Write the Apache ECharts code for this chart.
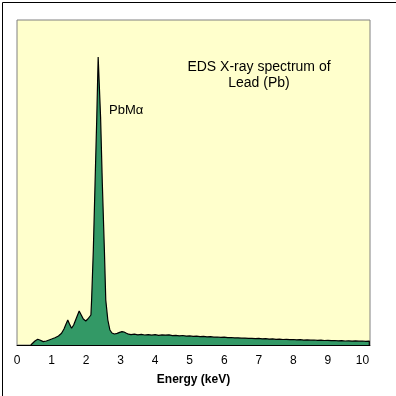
<!DOCTYPE html>
<html>
<head>
<meta charset="utf-8">
<script src="https://cdn.jsdelivr.net/npm/echarts@6/dist/echarts.min.js"></script>
<style>
html,body{margin:0;padding:0;background:#fff;}
#chart{width:396px;height:396px;}
</style>
</head>
<body>
<div id="chart"></div>
<script>
// Energy (keV) and relative counts
const energy = [
  0.40, 0.45, 0.52, 0.60, 0.66, 0.76, 0.85, 0.95, 1.02, 1.10, 1.20, 1.29, 1.36, 1.42, 1.47, 1.52, 1.58, 1.64, 1.72, 1.80,
  1.86, 1.92, 1.99, 2.05, 2.10, 2.14, 2.16, 2.21, 2.26, 2.31, 2.35, 2.42, 2.47, 2.53, 2.57, 2.63, 2.69, 2.75, 2.82, 2.90,
  2.97, 3.04, 3.10, 3.17, 3.23,
  3.3, 3.4, 3.5, 3.6, 3.7, 3.8, 3.9, 4.0, 4.1, 4.2, 4.3, 4.4, 4.5, 4.6, 4.7, 4.8, 4.9, 5.0, 5.1, 5.2,
  5.3, 5.4, 5.5, 5.6, 5.7, 5.8, 5.9, 6.0, 6.1, 6.2, 6.3, 6.4, 6.5, 6.6, 6.7, 6.8, 6.9, 7.0, 7.1, 7.2,
  7.3, 7.4, 7.5, 7.6, 7.7, 7.8, 7.9, 8.0, 8.1, 8.2, 8.3, 8.4, 8.5, 8.6, 8.7, 8.8, 8.9, 9.0, 9.1, 9.2,
  9.3, 9.4, 9.5, 9.6, 9.7, 9.8, 9.9, 10.0, 10.1, 10.2, 10.2
];
const counts = [
  0, 2, 4, 5.7, 5, 3.4, 4, 5.3, 6.2, 7.3, 9, 11.7, 16, 21, 25, 21, 16.7, 20, 27, 34,
  30, 26, 24, 26, 28, 30, 45, 95, 162, 228, 288, 228, 162, 95, 45, 25, 15, 12, 11, 11.6,
  12.6, 13.4, 13, 11.8, 10.8,
  10.3, 10.8, 10.2, 10.6, 10.0, 10.4, 9.8, 10.3, 9.7, 10.1, 9.9, 10.2, 9.4, 9.6, 9.2, 9.5, 8.9, 9.1, 8.6, 8.8,
  8.4, 8.6, 8.1, 8.3, 7.8, 8.0, 7.6, 7.8, 7.3, 7.5, 7.1, 7.2, 6.8, 6.9, 6.6, 6.7, 6.4, 6.6, 6.2, 6.3,
  5.9, 6.1, 5.6, 5.8, 5.5, 5.7, 5.3, 5.5, 5.1, 5.4, 4.9, 5.1, 4.8, 5.0, 4.6, 4.8, 4.5, 4.7, 4.3, 4.5,
  4.2, 4.3, 4.0, 4.2, 3.9, 4.1, 3.8, 4.0, 3.7, 3.9, 0
];
const titleLines = ['EDS X-ray spectrum of', 'Lead (Pb)'];
const peakLabel = 'PbMα';
const xAxisName = 'Energy (keV)';

const data = energy.map((e, i) => [e, counts[i]]);
const font = '"Liberation Sans", Arial, sans-serif';

const chart = echarts.init(document.getElementById('chart'), null, {renderer: 'canvas'});
chart.setOption({
  animation: false,
  backgroundColor: '#ffffff',
  grid: {
    left: 17, top: 20, right: 26, bottom: 51,
    show: true, backgroundColor: '#FFFFCC', borderColor: '#808080', borderWidth: 1
  },
  xAxis: {
    type: 'value', min: 0, max: 10.22, interval: 1,
    name: xAxisName, nameLocation: 'middle', nameGap: 29,
    nameTextStyle: {fontFamily: font, fontSize: 12, fontWeight: 'bold', color: '#000'},
    axisLine: {show: true, lineStyle: {color: '#000', width: 1}},
    axisTick: {show: false},
    splitLine: {show: false},
    axisLabel: {fontFamily: font, fontSize: 12, color: '#000', margin: 10, showMaxLabel: false}
  },
  yAxis: {
    type: 'value', min: 0, max: 325, show: false, splitLine: {show: false}
  },
  series: [{
    type: 'line',
    data: data,
    showSymbol: false,
    symbol: 'none',
    lineStyle: {color: '#000', width: 1.2},
    areaStyle: {color: '#339966', opacity: 1}
  }],
  graphic: [
    {type: 'rect', left: 0, top: 0, shape: {x: 0.5, y: 0.5, width: 395, height: 395},
     style: {fill: 'none', stroke: '#000', lineWidth: 1}, z: 100},
    {type: 'text', x: 259, y: 59, style: {text: titleLines.join('\n'), font: '14px ' + font,
     fill: '#000', textAlign: 'center', lineHeight: 16}},
    {type: 'text', x: 109, y: 104, style: {text: peakLabel, font: '13px ' + font, fill: '#000'}}
  ]
});
</script>
</body>
</html>
